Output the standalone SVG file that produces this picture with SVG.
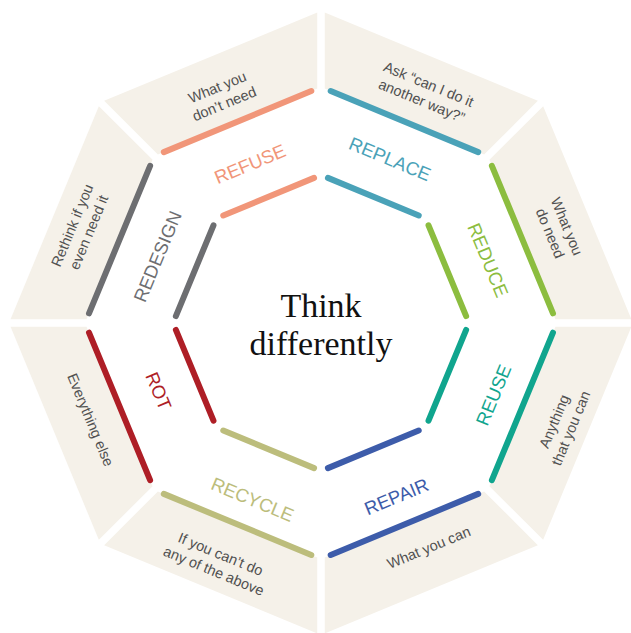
<svg xmlns="http://www.w3.org/2000/svg" xmlns:xlink="http://www.w3.org/1999/xlink" width="631" height="633" viewBox="0 0 631 633">
  <style>
    .band { fill: #f5f1e9; }
    .edge { fill: none; stroke-width: 6; stroke-linecap: round; }
    .label { font-family: "Liberation Sans", Arial, sans-serif; font-size: 18.5px; text-anchor: middle; }
    .desc { font-family: "Liberation Sans", Arial, sans-serif; font-size: 14.5px; fill: #505050; text-anchor: middle; }
    .title { font-family: "Liberation Serif", "Times New Roman", serif; font-size: 34px; fill: #111111; text-anchor: middle; }
  </style>
  <defs>
    <!-- one eighth of the ring, drawn for the top-right edge; the others are rotated copies -->
    <polygon id="band" class="band" points="3.75,-310.45 216.86,-222.16 163.13,-168.43 3.75,-234.45"/>
    <line id="outerEdge" class="edge" x1="9.70" y1="-231.98" x2="157.18" y2="-170.89"/>
    <line id="innerEdge" class="edge" x1="6.93" y1="-145.13" x2="97.72" y2="-107.52"/>
  </defs>

  <rect width="631" height="633" fill="#ffffff"/>

  <g id="replace">
    <g transform="translate(321 323) rotate(0)">
      <use href="#band"/>
      <use href="#outerEdge" stroke="#4aa2b8"/>
      <use href="#innerEdge" stroke="#4aa2b8"/>
    </g>
    <text class="label" fill="#4aa2b8" transform="translate(390 159) rotate(22.5)" y="6.5">REPLACE</text>
    <text class="desc" transform="translate(425 93) rotate(22.5)"><tspan x="0" y="-4.5">Ask “can I do it</tspan><tspan x="0" y="13.5">another way?”</tspan></text>
  </g>

  <g id="reduce">
    <g transform="translate(321 323) rotate(45)">
      <use href="#band"/>
      <use href="#outerEdge" stroke="#8cbd3f"/>
      <use href="#innerEdge" stroke="#8cbd3f"/>
    </g>
    <text class="label" fill="#8cbd3f" transform="translate(488 260) rotate(67.5)" y="6.5">REDUCE</text>
    <text class="desc" transform="translate(558 230) rotate(67.5)"><tspan x="0" y="-4.5">What you</tspan><tspan x="0" y="13.5">do need</tspan></text>
  </g>

  <g id="reuse">
    <g transform="translate(321 323) rotate(90)">
      <use href="#band"/>
      <use href="#outerEdge" stroke="#10a58e"/>
      <use href="#innerEdge" stroke="#10a58e"/>
    </g>
    <text class="label" fill="#10a58e" transform="translate(493.5 395) rotate(-67.5)" y="6.5">REUSE</text>
    <text class="desc" transform="translate(563 425) rotate(-67.5)"><tspan x="0" y="-4.5">Anything</tspan><tspan x="0" y="13.5">that you can</tspan></text>
  </g>

  <g id="repair">
    <g transform="translate(321 323) rotate(135)">
      <use href="#band"/>
      <use href="#outerEdge" stroke="#3d5caa"/>
      <use href="#innerEdge" stroke="#3d5caa"/>
    </g>
    <text class="label" fill="#3d5caa" transform="translate(396.5 496.5) rotate(-22.5)" y="6.5">REPAIR</text>
    <text class="desc" transform="translate(429 548) rotate(-22.5)" y="4.5">What you can</text>
  </g>

  <g id="recycle">
    <g transform="translate(321 323) rotate(180)">
      <use href="#band"/>
      <use href="#outerEdge" stroke="#bcbd7c"/>
      <use href="#innerEdge" stroke="#bcbd7c"/>
    </g>
    <text class="label" fill="#bcbd7c" transform="translate(252.5 499.5) rotate(22.5)" y="6.5">RECYCLE</text>
    <text class="desc" transform="translate(217 563) rotate(22.5)"><tspan x="0" y="-4.5">If you can’t do</tspan><tspan x="0" y="13.5">any of the above</tspan></text>
  </g>

  <g id="rot">
    <g transform="translate(321 323) rotate(225)">
      <use href="#band"/>
      <use href="#outerEdge" stroke="#ae1e26"/>
      <use href="#innerEdge" stroke="#ae1e26"/>
    </g>
    <text class="label" fill="#ae1e26" transform="translate(158.5 391) rotate(67.5)" y="6.5">ROT</text>
    <text class="desc" transform="translate(90 420) rotate(67.5)" y="4.5">Everything else</text>
  </g>

  <g id="redesign">
    <g transform="translate(321 323) rotate(270)">
      <use href="#band"/>
      <use href="#outerEdge" stroke="#6d6e71"/>
      <use href="#innerEdge" stroke="#6d6e71"/>
    </g>
    <text class="label" fill="#6d6e71" transform="translate(157.5 256.5) rotate(-67.5)" y="6.5">REDESIGN</text>
    <text class="desc" transform="translate(81 229) rotate(-67.5)"><tspan x="0" y="-4.5">Rethink if you</tspan><tspan x="0" y="13.5">even need it</tspan></text>
  </g>

  <g id="refuse">
    <g transform="translate(321 323) rotate(315)">
      <use href="#band"/>
      <use href="#outerEdge" stroke="#f19679"/>
      <use href="#innerEdge" stroke="#f19679"/>
    </g>
    <text class="label" fill="#f19679" transform="translate(250 164) rotate(-22.5)" y="6.5">REFUSE</text>
    <text class="desc" transform="translate(221 96) rotate(-22.5)"><tspan x="0" y="-4.5">What you</tspan><tspan x="0" y="13.5">don’t need</tspan></text>
  </g>

  <g id="center">
    <text class="title" x="321" y="317">Think</text>
    <text class="title" x="321" y="355">differently</text>
  </g>
</svg>
